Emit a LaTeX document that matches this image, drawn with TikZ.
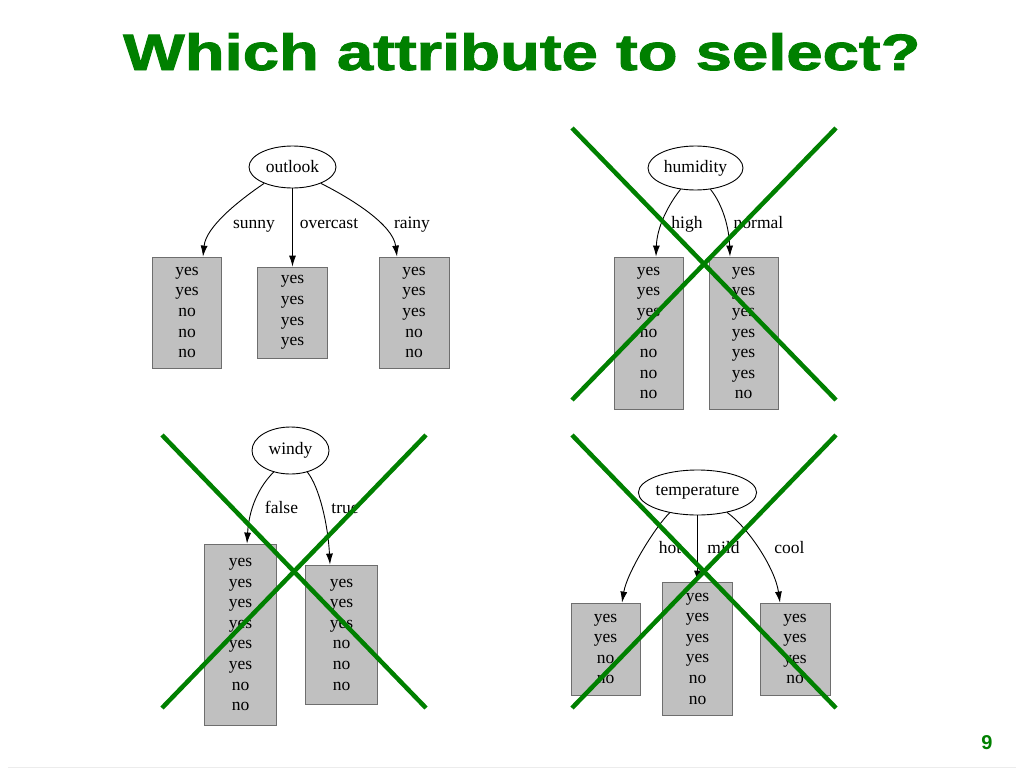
\documentclass[tikz,border=0pt]{standalone}
\usepackage{fontspec}
\setmainfont{Liberation Serif}
\setsansfont{Liberation Sans}
\newfontfamily\titlefont{Liberation Sans Bold}[FakeBold=1.6]
\usetikzlibrary{shapes.geometric,arrows.meta}
\definecolor{pptgreen}{RGB}{0,128,0}
\definecolor{boxgray}{RGB}{192,192,192}
\definecolor{boxedge}{RGB}{110,110,110}
\begin{document}
\begin{tikzpicture}[x=1pt,y=-1pt,
  attr/.style={ellipse, draw=black, line width=0.9pt, fill=white, inner sep=0pt,
    font=\fontsize{17.5}{20.6}\selectfont},
  leaf/.style={rectangle, draw=boxedge, line width=0.8pt, fill=boxgray, inner sep=0pt,
    align=center, font=\fontsize{17.5}{20.6}\selectfont},
  elabel/.style={anchor=base, inner sep=0pt, font=\fontsize{17.5}{20.6}\selectfont},
  edge/.style={draw=black, line width=0.9pt, -{Latex[length=11pt,width=7pt]}},
  cross/.style={draw=pptgreen, line width=4.5pt},
]
\fill[white] (0,0) rectangle (1024,768);
\useasboundingbox (0,0) rectangle (1024,768);

% title and page number
\node[anchor=base west, inner sep=0pt, text=pptgreen] (title) at (123,70)
  {\resizebox{797pt}{37pt}{\titlefont Which attribute to select?}};
\node[text=pptgreen, inner sep=0pt, font=\sffamily\bfseries\fontsize{20}{24}\selectfont] (pg) at (987,742.5) {9};
\coordinate (bl1) at (8,767);
\coordinate (bl2) at (1016,767);
\draw[gray!15, line width=1pt] (bl1) -- (bl2);

% ---------- outlook ----------
\node[attr, minimum width=87pt, minimum height=42pt] (o) at (292.5,167) {outlook};
\node[leaf, minimum width=69pt, minimum height=111pt] (s1) at (187,312.5) {yes\\yes\\no\\no\\no};
\node[leaf, minimum width=70pt, minimum height=91pt] (s2) at (292.5,312.5) {yes\\yes\\yes\\yes};
\node[leaf, minimum width=70pt, minimum height=111pt] (s3) at (414,312.5) {yes\\yes\\yes\\no\\no};
\draw[edge] (o.210) .. controls +(-25,17) and +(3,-30) .. ([xshift=16pt]s1.north);
\draw[edge] (o.south) -- (s2.north);
\draw[edge] (o.330) .. controls +(30,15) and +(-4,-32) .. ([xshift=-17pt]s3.north);
\node[elabel] (lsunny) at (254,228) {sunny};
\node[elabel] (lover) at (329,228) {overcast};
\node[elabel] (lrainy) at (412,228) {rainy};

% ---------- humidity ----------
\node[attr, minimum width=95pt, minimum height=44pt] (h) at (695.5,168) {humidity};
\node[leaf, minimum width=69pt, minimum height=152pt] (h1) at (648.5,333) {yes\\yes\\yes\\no\\no\\no\\no};
\node[leaf, minimum width=69pt, minimum height=152pt] (h2) at (743.5,333) {yes\\yes\\yes\\yes\\yes\\yes\\no};
\draw[edge] (h.235) .. controls +(-12,15) and +(1,-30) .. ([xshift=7.5pt]h1.north);
\draw[edge] (h.305) .. controls +(12,15) and +(-1,-30) .. ([xshift=-13.5pt]h2.north);
\node[elabel] (lhigh) at (687,228) {high};
\node[elabel] (lnormal) at (758.5,228) {normal};

% ---------- windy ----------
\node[attr, minimum width=77pt, minimum height=47pt] (w) at (290.5,450.5) {windy};
\node[leaf, minimum width=72pt, minimum height=181pt] (w1) at (240.5,634.5) {yes\\yes\\yes\\yes\\yes\\yes\\no\\no};
\node[leaf, minimum width=72pt, minimum height=139pt] (w2) at (341.5,634.5) {yes\\yes\\yes\\no\\no\\no};
\draw[edge] (w.232) .. controls +(-15,15) and +(2,-35) .. ([xshift=6.5pt]w1.north);
\draw[edge] (w.308) .. controls +(12,15) and +(-2,-40) .. ([xshift=-11.5pt]w2.north);
\node[elabel] (lfalse) at (281.5,513) {false};
\node[elabel] (ltrue) at (345,513) {true};

% ---------- temperature ----------
\node[attr, minimum width=117pt, minimum height=45pt] (tt) at (697.5,492.5) {temperature};
\node[leaf, minimum width=69pt, minimum height=92pt] (t1) at (605.5,649) {yes\\yes\\no\\no};
\node[leaf, minimum width=70pt, minimum height=133pt] (t2) at (697.5,648.5) {yes\\yes\\yes\\yes\\no\\no};
\node[leaf, minimum width=70pt, minimum height=92pt] (t3) at (795,649) {yes\\yes\\yes\\no};
\draw[edge] (tt.216) .. controls +(-15,15) and +(5,-30) .. ([xshift=16.5pt]t1.north);
\draw[edge] (tt.south) -- (t2.north);
\draw[edge] (tt.326) .. controls +(20,14) and +(-5,-35) .. ([xshift=-15pt]t3.north);
\node[elabel] (lhot) at (670,553) {hot};
\node[elabel] (lmild) at (723.5,553) {mild};
\node[elabel] (lcool) at (789.5,553) {cool};

% ---------- green crosses ----------
\coordinate (ha) at (572,128); \coordinate (hb) at (836,400);
\coordinate (hc) at (572,400); \coordinate (hd) at (836,128);
\draw[cross] (ha) -- (hb); \draw[cross] (hc) -- (hd);
\coordinate (wa) at (162,435); \coordinate (wb) at (426,708);
\coordinate (wc) at (162,708); \coordinate (wd) at (426,435);
\draw[cross] (wa) -- (wb); \draw[cross] (wc) -- (wd);
\coordinate (ta) at (572,435); \coordinate (tb) at (836,708);
\coordinate (tc) at (572,708); \coordinate (td) at (836,435);
\draw[cross] (ta) -- (tb); \draw[cross] (tc) -- (td);
\end{tikzpicture}
\end{document}
